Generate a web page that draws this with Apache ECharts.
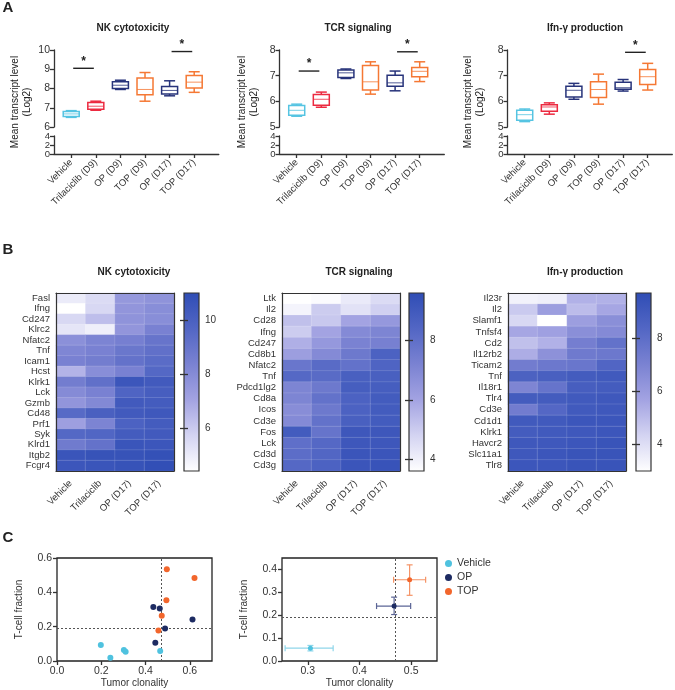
<!DOCTYPE html>
<html><head><meta charset="utf-8">
<script src="https://cdn.jsdelivr.net/npm/echarts@6/dist/echarts.min.js"></script>
<style>html,body{margin:0;padding:0;background:#fff}#c{width:675px;height:690px}</style>
</head><body><div id="c"></div><script>
const FONT = '"Liberation Sans", Arial, Helvetica, sans-serif';

// ---------- Panel A data ----------
const groups = ['Vehicle', 'Trilaciclib (D9)', 'OP (D9)', 'TOP (D9)', 'OP (D17)', 'TOP (D17)'];
const boxTitles = ['NK cytotoxicity', 'TCR signaling', 'Ifn-\u03b3 production'];
// [min, Q1, median, Q3, max]
const nkBox = [[6.50, 6.55, 6.68, 6.80, 6.85], [6.87, 6.92, 7.08, 7.27, 7.34], [7.95, 8.00, 8.17, 8.35, 8.43],
               [7.34, 7.67, 7.95, 8.55, 8.83], [7.62, 7.72, 7.90, 8.10, 8.40], [7.80, 8.03, 8.33, 8.68, 8.87]];
const tcrBox = [[5.42, 5.46, 5.65, 5.84, 5.89], [5.77, 5.85, 6.08, 6.27, 6.36], [6.89, 6.93, 7.11, 7.22, 7.26],
                [6.28, 6.44, 6.76, 7.40, 7.54], [6.41, 6.59, 6.72, 7.02, 7.18], [6.77, 6.96, 7.17, 7.32, 7.54]];
const ifnBox = [[5.21, 5.26, 5.48, 5.65, 5.70], [5.50, 5.61, 5.78, 5.87, 5.94], [6.08, 6.17, 6.43, 6.59, 6.70],
                [5.89, 6.15, 6.46, 6.76, 7.06], [6.40, 6.47, 6.53, 6.74, 6.85], [6.44, 6.66, 6.96, 7.24, 7.48]];
// significance bars [fromGroup, toGroup, level]
const nkSig = [[1.08, 1.92, 9.05], [5.08, 5.92, 9.92]];
const tcrSig = [[1.08, 1.92, 7.18], [5.08, 5.92, 7.93]];
const ifnSig = [[5.08, 5.92, 7.91]];
const upperRanges = [[6, 10], [5, 8], [5, 8]];
const lowerRange = [0, 4];
const lowerTicks = [0, 2, 4];
const lowerEndLabels = [0, 4];
const lowerMidLabels = [2];

// ---------- Panel B data ----------
const heatCols = ['Vehicle', 'Trilaciclib', 'OP (D17)', 'TOP (D17)'];
const nkGenes = ['Fasl', 'Ifng', 'Cd247', 'Klrc2', 'Nfatc2', 'Tnf', 'Icam1', 'Hcst', 'Klrk1', 'Lck', 'Gzmb', 'Cd48', 'Prf1', 'Syk', 'Klrd1', 'Itgb2', 'Fcgr4'];
const nkHeat = [[5.0, 5.5, 7.5, 7.7], [4.4, 5.6, 7.6, 7.9], [5.6, 6.3, 7.7, 7.9], [5.2, 4.9, 7.6, 8.4],
  [7.8, 8.3, 8.5, 9.0], [8.2, 8.4, 8.9, 9.2], [8.4, 8.6, 9.1, 9.4], [6.6, 7.9, 8.4, 9.6],
  [8.6, 9.2, 10.5, 10.3], [8.0, 8.4, 9.8, 10.1], [7.6, 8.1, 10.3, 10.2], [9.5, 10.0, 10.3, 10.4],
  [7.2, 8.3, 9.9, 10.2], [9.6, 9.7, 10.2, 10.3], [8.7, 9.1, 10.6, 10.5], [10.6, 10.7, 10.7, 10.8], [10.5, 10.6, 10.7, 10.9]];
const tcrGenes = ['Ltk', 'Il2', 'Cd28', 'Ifng', 'Cd247', 'Cd8b1', 'Nfatc2', 'Tnf', 'Pdcd1lg2', 'Cd8a', 'Icos', 'Cd3e', 'Fos', 'Lck', 'Cd3d', 'Cd3g'];
const tcrHeat = [[3.6, 3.7, 4.2, 4.6], [3.9, 5.0, 4.4, 4.9], [5.3, 5.1, 6.0, 6.4], [5.0, 6.0, 6.9, 7.1],
  [5.7, 6.4, 7.2, 7.3], [6.2, 6.9, 7.6, 8.6], [7.7, 8.2, 7.9, 8.5], [8.3, 8.2, 8.7, 8.7],
  [7.1, 7.6, 8.8, 8.8], [7.1, 7.9, 8.6, 8.9], [6.8, 7.6, 8.6, 8.9], [6.9, 7.9, 8.7, 8.9],
  [8.9, 7.8, 9.1, 9.1], [8.0, 8.3, 9.1, 9.1], [8.1, 8.4, 9.2, 9.2], [8.3, 8.6, 9.2, 9.3]];
const ifnGenes = ['Il23r', 'Il2', 'Slamf1', 'Tnfsf4', 'Cd2', 'Il12rb2', 'Ticam2', 'Tnf', 'Il18r1', 'Tlr4', 'Cd3e', 'Cd1d1', 'Klrk1', 'Havcr2', 'Slc11a1', 'Tlr8'];
const ifnHeat = [[3.4, 3.5, 5.3, 5.3], [4.6, 5.9, 5.0, 5.6], [4.2, 3.0, 5.9, 6.5], [5.6, 5.8, 6.5, 6.7],
  [4.9, 5.3, 7.2, 7.8], [5.4, 6.4, 7.4, 7.5], [7.3, 7.5, 7.6, 8.4], [8.6, 8.7, 8.9, 9.0],
  [6.9, 7.7, 8.8, 8.9], [8.9, 8.9, 9.0, 9.1], [7.3, 8.3, 9.0, 9.1], [9.0, 9.0, 9.2, 9.2],
  [8.9, 9.0, 9.1, 9.2], [9.1, 9.1, 9.2, 9.3], [9.1, 9.2, 9.3, 9.3], [9.2, 9.2, 9.3, 9.3]];
const heatRanges = [[4.4, 11.0], [3.6, 9.6], [3.0, 9.7]];
const nkBarTicks = [6, 8, 10];
const tcrBarTicks = [4, 6, 8];
const ifnBarTicks = [4, 6, 8];

// ---------- Panel C data ----------
const scatterNames = ['Vehicle', 'OP', 'TOP'];
const vehiclePts = [[0.198, 0.093], [0.241, 0.019], [0.302, 0.064], [0.310, 0.054], [0.466, 0.058]];
const opPts = [[0.435, 0.315], [0.464, 0.306], [0.488, 0.190], [0.444, 0.106], [0.612, 0.242]];
const topPts = [[0.496, 0.534], [0.621, 0.484], [0.494, 0.354], [0.473, 0.263], [0.458, 0.178]];
// [meanX, meanY, xLow, xHigh, yLow, yHigh]
const vehicleMean = [0.305, 0.056, 0.256, 0.349, 0.044, 0.068];
const opMean = [0.467, 0.240, 0.433, 0.499, 0.203, 0.279];
const topMean = [0.497, 0.355, 0.466, 0.528, 0.287, 0.420];
const clonalityCut = 0.466;
const tcellCut = 0.19;
const sc1XTicks = [0, 0.2, 0.4, 0.6];
const sc1YTicks = [0, 0.2, 0.4, 0.6];
const sc2XTicks = [0.3, 0.4, 0.5];
const sc2YTicks = [0, 0.1, 0.2, 0.3, 0.4];

// ---------- styles / layout ----------
const groupColors = ['#55c4e2', '#ec2a40', '#27337a', '#f57834', '#27337a', '#f57834'];
const scColors = ['#4fc2df', '#1d2b62', '#f2662c'];
const errColors = ['#8fd6ea', '#5b6596', '#f59366'];
const heatStops = ['#ffffff', '#d4d4f2', '#a3a3e2', '#7a82d2', '#5266c4', '#2f4db5'];
const TXT = '#333';

const A_LAYOUT = [{x: 54, title: 133, yname: 21}, {x: 279.5, title: 358, yname: 248}, {x: 507.5, title: 585, yname: 474}];
const A_W = 164.8;
const B_LAYOUT = [{x: 56, cb: 184, title: 134}, {x: 282, cb: 409, title: 359}, {x: 508, cb: 636, title: 585}];

const chart = echarts.init(document.getElementById('c'), null, {renderer: 'canvas'});
const grid = [], xAxis = [], yAxis = [], series = [], visualMap = [], graphic = [];

function txt(x, y, text, size, bold, extra) {
  graphic.push(Object.assign({type: 'text', x: x, y: y, silent: true,
    style: {text: text, fill: '#222', font: (bold ? 'bold ' : '') + size + 'px ' + FONT, align: 'center', verticalAlign: 'middle'}}, extra || {}));
}

// Panel labels
txt(8, 8, 'A', 15, true);
txt(8, 250, 'B', 15, true);
txt(8, 538, 'C', 15, true);

// ---------- Panel A ----------
const boxSets = [nkBox, tcrBox, ifnBox];
const sigSets = [nkSig, tcrSig, ifnSig];
function boxItem(params, api) {
  const i = api.value(0);
  const c = groupColors[i - 1];
  const lo = api.coord([i, api.value(1)]), q1 = api.coord([i, api.value(2)]), md = api.coord([i, api.value(3)]),
        q3 = api.coord([i, api.value(4)]), hi = api.coord([i, api.value(5)]);
  const x = lo[0], hw = 8, cw = 5.5;
  const st = {stroke: c, lineWidth: 1.5, fill: null};
  return {type: 'group', children: [
    {type: 'line', shape: {x1: x, y1: hi[1], x2: x, y2: q3[1]}, style: st},
    {type: 'line', shape: {x1: x, y1: q1[1], x2: x, y2: lo[1]}, style: st},
    {type: 'line', shape: {x1: x - cw, y1: hi[1], x2: x + cw, y2: hi[1]}, style: st},
    {type: 'line', shape: {x1: x - cw, y1: lo[1], x2: x + cw, y2: lo[1]}, style: st},
    {type: 'rect', shape: {x: x - hw, y: q3[1], width: 2 * hw, height: q1[1] - q3[1]}, style: {stroke: c, lineWidth: 1.5, fill: '#fff'}},
    {type: 'line', shape: {x1: x - hw, y1: md[1], x2: x + hw, y2: md[1]}, style: {stroke: c, lineWidth: 1, opacity: 0.8}}
  ]};
}
function sigItem(params, api) {
  const a = api.coord([api.value(0), api.value(2)]), b = api.coord([api.value(1), api.value(2)]);
  return {type: 'group', children: [
    {type: 'line', shape: {x1: a[0], y1: a[1], x2: b[0], y2: b[1]}, style: {stroke: '#222', lineWidth: 1.4}},
    {type: 'text', x: (a[0] + b[0]) / 2, y: a[1] - 1, style: {text: '*', font: 'bold 12px ' + FONT, fill: '#222', align: 'center', verticalAlign: 'bottom'}}
  ]};
}
const axLine = {show: true, lineStyle: {color: '#333', width: 1.3}};
const axTick = {show: true, length: 4, lineStyle: {color: '#333', width: 1.3}};
const lowLabel = {fontSize: 9.5, color: TXT, fontFamily: FONT, margin: 4, showMinLabel: true, showMaxLabel: true};
for (let k = 0; k < 3; k++) {
  const L = A_LAYOUT[k];
  const gu = grid.length;
  grid.push({left: L.x, top: 50, width: A_W, height: 77});
  grid.push({left: L.x, top: 136, width: A_W, height: 18});
  const xu = xAxis.length;
  xAxis.push({gridIndex: gu, type: 'value', min: 0.3, max: 7, show: false});
  xAxis.push({gridIndex: gu + 1, type: 'value', min: 0.3, max: 7, splitLine: {show: false},
    axisLine: axLine, axisTick: Object.assign({customValues: [1, 2, 3, 4, 5, 6]}, axTick),
    axisLabel: {customValues: [1, 2, 3, 4, 5, 6], rotate: 45, margin: 7, fontSize: 9.5, color: TXT, fontFamily: FONT,
      formatter: v => groups[Math.round(v) - 1] || ''}});
  const yu = yAxis.length;
  yAxis.push({gridIndex: gu, type: 'value', min: upperRanges[k][0], max: upperRanges[k][1], interval: 1, splitLine: {show: false},
    axisLine: axLine, axisTick: axTick, axisLabel: {fontSize: 10.5, color: TXT, fontFamily: FONT, margin: 4, showMinLabel: true, showMaxLabel: true}});
  yAxis.push({gridIndex: gu + 1, type: 'value', min: lowerRange[0], max: lowerRange[1], position: 'left', splitLine: {show: false},
    axisLine: axLine, axisTick: Object.assign({customValues: lowerTicks}, axTick),
    axisLabel: Object.assign({customValues: lowerEndLabels}, lowLabel)});
  yAxis.push({gridIndex: gu + 1, type: 'value', min: lowerRange[0], max: lowerRange[1], position: 'left', splitLine: {show: false},
    axisLine: {show: false}, axisTick: {show: false},
    axisLabel: Object.assign({customValues: lowerMidLabels}, lowLabel)});
  series.push({type: 'custom', xAxisIndex: xu, yAxisIndex: yu, renderItem: boxItem, encode: {x: 0, y: [1, 2, 3, 4, 5]},
    data: boxSets[k].map((b, i) => [i + 1].concat(b)), silent: true});
  series.push({type: 'custom', xAxisIndex: xu, yAxisIndex: yu, renderItem: sigItem, encode: {x: [0, 1], y: 2},
    data: sigSets[k], silent: true});
  txt(L.title, 28, boxTitles[k], 10, true);
  txt(L.yname, 102, 'Mean transcript level\n(Log2)', 10, false, {rotation: Math.PI / 2, style: {text: 'Mean transcript level\n(Log2)', fill: '#222', font: '10px ' + FONT, align: 'center', verticalAlign: 'middle', lineHeight: 12}});
}

// ---------- Panel B ----------
const heatGenes = [nkGenes, tcrGenes, ifnGenes];
const heatVals = [nkHeat, tcrHeat, ifnHeat];
const barTicks = [nkBarTicks, tcrBarTicks, ifnBarTicks];
const frameLine = {show: true, lineStyle: {color: '#333', width: 1.2}};
function cbItem(params, api) {
  const top = api.coord([0, api.value(1)]), bot = api.coord([1, api.value(0)]);
  const n = heatStops.length;
  const grad = new echarts.graphic.LinearGradient(0, 0, 0, 1,
    heatStops.slice().reverse().map((c, i) => ({offset: i / (n - 1), color: c})));
  return {type: 'rect', shape: {x: top[0], y: top[1], width: bot[0] - top[0], height: bot[1] - top[1]},
    style: {fill: grad, stroke: '#333', lineWidth: 1.2}};
}
for (let k = 0; k < 3; k++) {
  const L = B_LAYOUT[k];
  const g = grid.length;
  grid.push({left: L.x, top: 293, width: 118, height: 178});
  grid.push({left: L.cb, top: 293, width: 15, height: 178});
  const xi = xAxis.length;
  xAxis.push({gridIndex: g, type: 'category', data: heatCols, z: 10, axisLine: frameLine, axisTick: {show: false},
    axisLabel: {rotate: 45, margin: 11, fontSize: 9.5, color: TXT, fontFamily: FONT, interval: 0}});
  xAxis.push({gridIndex: g, type: 'category', data: heatCols, position: 'top', z: 10, axisLine: frameLine, axisTick: {show: false}, axisLabel: {show: false}});
  xAxis.push({gridIndex: g + 1, type: 'value', min: 0, max: 1, show: false});
  const yi = yAxis.length;
  yAxis.push({gridIndex: g, type: 'category', data: heatGenes[k], inverse: true, z: 10, axisLine: frameLine, axisTick: {show: false},
    axisLabel: {fontSize: 9.5, color: TXT, fontFamily: FONT, margin: 6, interval: 0}});
  yAxis.push({gridIndex: g, type: 'category', data: heatGenes[k], inverse: true, position: 'right', z: 10, axisLine: frameLine, axisTick: {show: false}, axisLabel: {show: false}});
  const rng = heatRanges[k];
  yAxis.push({gridIndex: g + 1, type: 'value', min: rng[0], max: rng[1], position: 'right', z: 10, splitLine: {show: false},
    axisLine: {show: false}, axisTick: {show: true, inside: true, length: 4, customValues: barTicks[k], lineStyle: {color: '#333', width: 1.3}},
    axisLabel: {customValues: barTicks[k], fontSize: 10, color: TXT, fontFamily: FONT, margin: 6}});
  yAxis.push({gridIndex: g + 1, type: 'value', min: rng[0], max: rng[1], position: 'left', z: 10, splitLine: {show: false},
    axisLine: {show: false}, axisTick: {show: true, inside: true, length: 4, customValues: barTicks[k], lineStyle: {color: '#333', width: 1.3}},
    axisLabel: {show: false}});
  const si = series.length;
  const data = [];
  heatVals[k].forEach((row, r) => row.forEach((v, c) => data.push([c, r, v])));
  series.push({type: 'heatmap', xAxisIndex: xi, yAxisIndex: yi, data: data, silent: true,
    itemStyle: {borderColor: 'rgba(255,255,255,0.22)', borderWidth: 0.6}});
  series.push({type: 'custom', xAxisIndex: xi + 2, yAxisIndex: yi + 2, renderItem: cbItem, encode: {y: [0, 1]}, data: [rng], silent: true, z: 1});
  visualMap.push({type: 'continuous', show: false, seriesIndex: si, min: rng[0], max: rng[1], dimension: 2, inRange: {color: heatStops}});
  txt(L.title, 272, boxTitles[k], 10, true);
}

// ---------- Panel C ----------
const ptsSets = [vehiclePts, opPts, topPts];
const meanSets = [vehicleMean, opMean, topMean];
const scLabel = {fontSize: 10.5, color: TXT, fontFamily: FONT, margin: 5, formatter: v => v.toFixed(1), showMinLabel: true, showMaxLabel: true};
const scName = {fontSize: 10, color: '#333', fontFamily: FONT};
function errItem(params, api) {
  const c = errColors[api.value(6)];
  const x = api.value(0), y = api.value(1);
  const l = api.coord([api.value(2), y]), r = api.coord([api.value(3), y]);
  const b = api.coord([x, api.value(4)]), t = api.coord([x, api.value(5)]);
  const cap = 3, st = {stroke: c, lineWidth: 1.2};
  return {type: 'group', children: [
    {type: 'line', shape: {x1: l[0], y1: l[1], x2: r[0], y2: r[1]}, style: st},
    {type: 'line', shape: {x1: l[0], y1: l[1] - cap, x2: l[0], y2: l[1] + cap}, style: st},
    {type: 'line', shape: {x1: r[0], y1: r[1] - cap, x2: r[0], y2: r[1] + cap}, style: st},
    {type: 'line', shape: {x1: b[0], y1: b[1], x2: t[0], y2: t[1]}, style: st},
    {type: 'line', shape: {x1: b[0] - cap, y1: b[1], x2: b[0] + cap, y2: b[1]}, style: st},
    {type: 'line', shape: {x1: t[0] - cap, y1: t[1], x2: t[0] + cap, y2: t[1]}, style: st}
  ]};
}
const cutLines = {silent: true, symbol: 'none', label: {show: false},
  lineStyle: {color: '#555', type: [2, 2], width: 1}, data: [{xAxis: clonalityCut}, {yAxis: tcellCut}]};
const scDefs = [
  {left: 57, xr: [0, 0.7], yr: [0, 0.6], xt: sc1XTicks, yt: sc1YTicks},
  {left: 282, xr: [0.25, 0.55], yr: [0, 0.45], xt: sc2XTicks, yt: sc2YTicks}
];
scDefs.forEach((d, j) => {
  const g = grid.length;
  grid.push({left: d.left, top: 558, width: 155, height: 103, show: true, borderColor: '#222', borderWidth: 1.3, backgroundColor: 'transparent'});
  const xi = xAxis.length, yi = yAxis.length;
  xAxis.push({gridIndex: g, type: 'value', min: d.xr[0], max: d.xr[1], splitLine: {show: false},
    axisLine: {show: false}, axisTick: Object.assign({customValues: d.xt}, axTick), axisLabel: Object.assign({customValues: d.xt}, scLabel),
    name: 'Tumor clonality', nameLocation: 'middle', nameGap: 17, nameTextStyle: scName});
  yAxis.push({gridIndex: g, type: 'value', min: d.yr[0], max: d.yr[1], splitLine: {show: false},
    axisLine: {show: false}, axisTick: Object.assign({customValues: d.yt}, axTick), axisLabel: Object.assign({customValues: d.yt}, scLabel),
    name: 'T-cell fraction', nameLocation: 'middle', nameGap: 33, nameTextStyle: scName});
  if (j === 0) {
    ptsSets.forEach((pts, i) => {
      series.push({type: 'scatter', name: scatterNames[i], xAxisIndex: xi, yAxisIndex: yi, data: pts, symbolSize: 6,
        itemStyle: {color: scColors[i], opacity: 1}, silent: true, z: 5,
        markLine: i === 0 ? cutLines : undefined});
    });
  } else {
    series.push({type: 'custom', xAxisIndex: xi, yAxisIndex: yi, renderItem: errItem, encode: {x: [0, 2, 3], y: [1, 4, 5]},
      data: meanSets.map((m, i) => m.concat([i])), silent: true, z: 4});
    meanSets.forEach((m, i) => {
      series.push({type: 'scatter', name: scatterNames[i], xAxisIndex: xi, yAxisIndex: yi, data: [[m[0], m[1]]], symbolSize: 5,
        itemStyle: {color: scColors[i], opacity: 1}, silent: true, z: 5,
        markLine: i === 0 ? cutLines : undefined});
    });
  }
});

const option = {
  animation: false,
  textStyle: {fontFamily: FONT},
  grid: grid, xAxis: xAxis, yAxis: yAxis, series: series, visualMap: visualMap, graphic: graphic,
  legend: {data: scatterNames, orient: 'vertical', left: 440, top: 553, itemWidth: 7, itemHeight: 7, itemGap: 3,
    icon: 'circle', textStyle: {fontSize: 10.5, color: '#333', fontFamily: FONT}, selectedMode: false}
};
chart.setOption(option);
</script></body></html>
